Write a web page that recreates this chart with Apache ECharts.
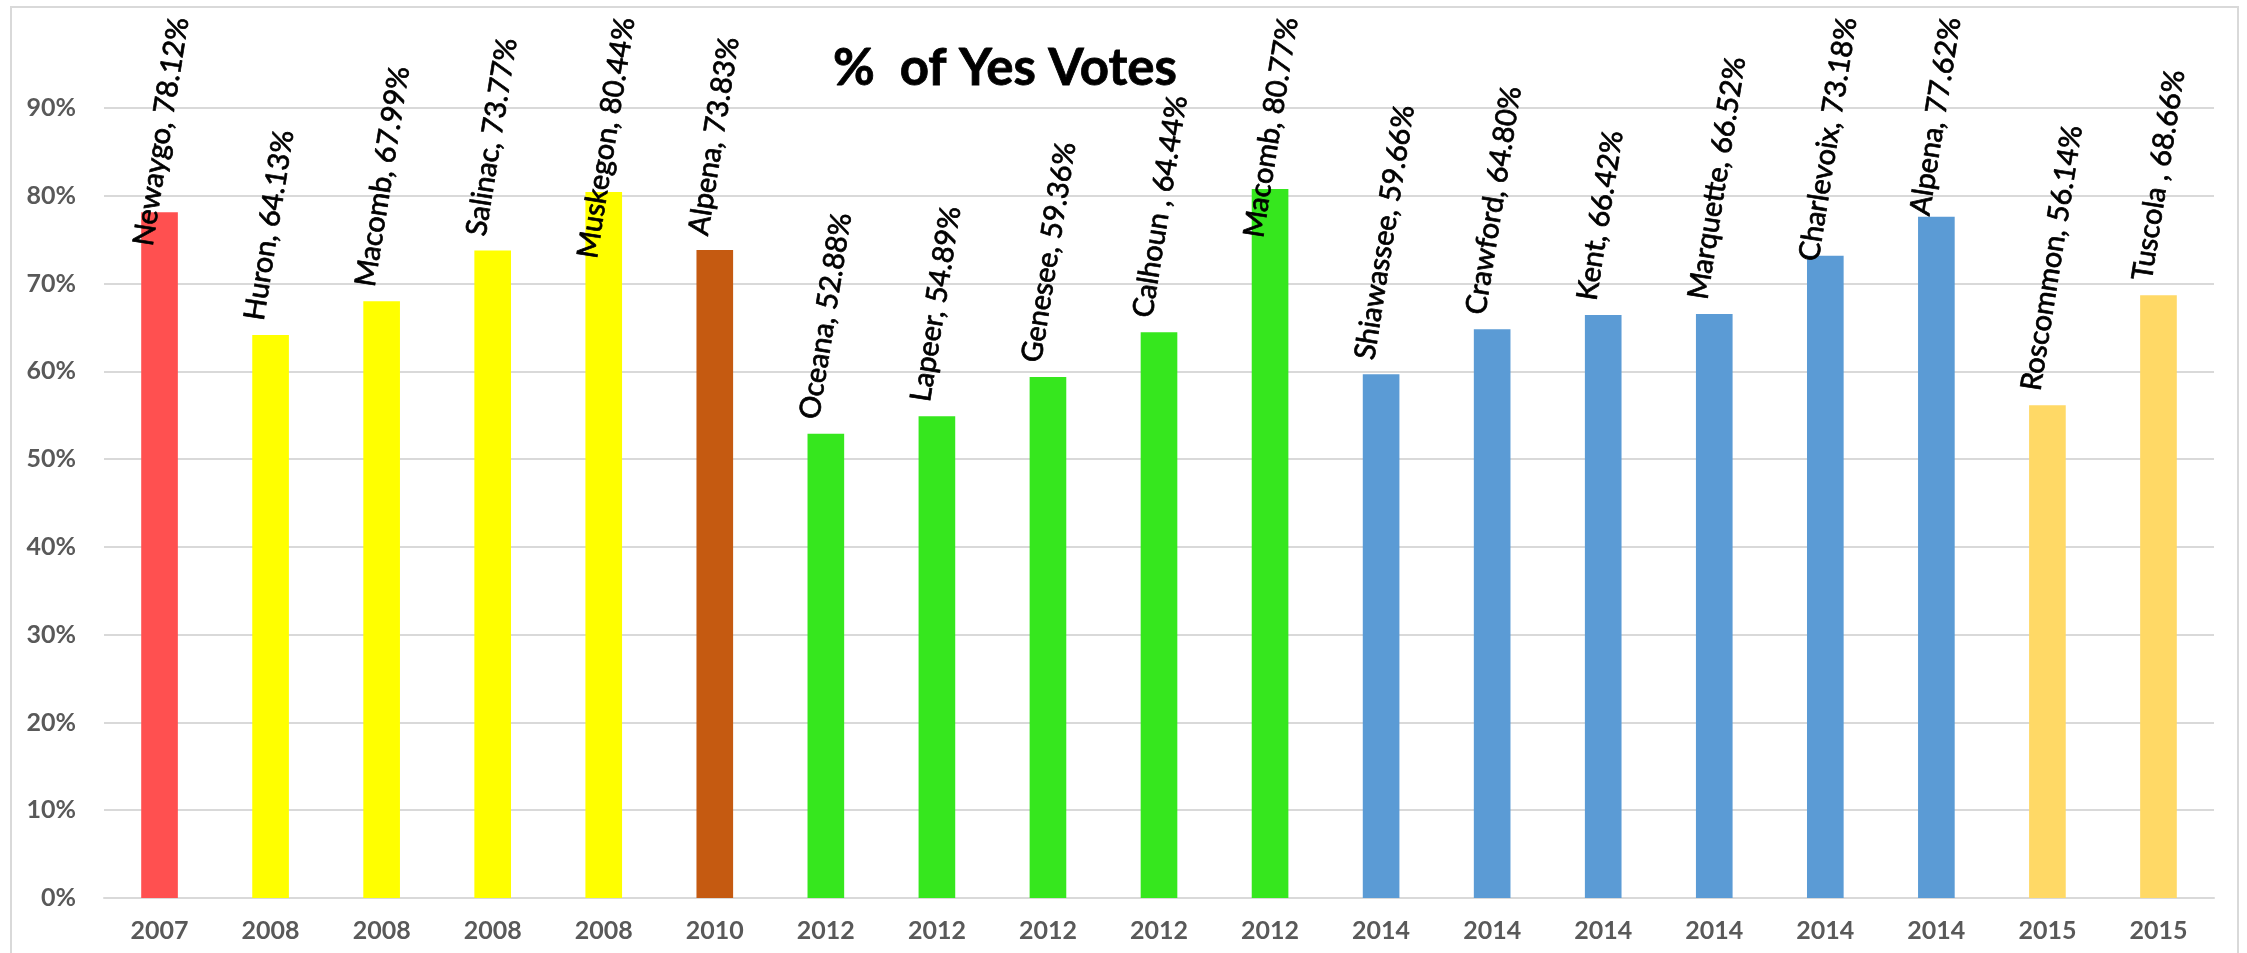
<!DOCTYPE html>
<html>
<head>
<meta charset="utf-8">
<script src="https://cdn.jsdelivr.net/npm/echarts@6/dist/echarts.min.js"></script>
<style>
html,body{margin:0;padding:0;background:#fff;}
#chart{width:2247px;height:953px;}
</style>
</head>
<body>
<div id="chart"></div>
<script>
const titleText = '%  of Yes Votes';
const years = ['2007','2008','2008','2008','2008','2010','2012','2012','2012','2012','2012','2014','2014','2014','2014','2014','2014','2015','2015'];
const counties = ['Newaygo','Huron','Macomb','Salinac','Muskegon','Alpena','Oceana','Lapeer','Genesee','Calhoun ','Macomb','Shiawassee','Crawford','Kent','Marquette','Charlevoix','Alpena','Roscommon','Tuscola '];
const values = [78.12,64.13,67.99,73.77,80.44,73.83,52.88,54.89,59.36,64.44,80.77,59.66,64.80,66.42,66.52,73.18,77.62,56.14,68.66];
const yearColors = {'2007':'#FF5050','2008':'#FFFF00','2010':'#C55A11','2012':'#36E71E','2014':'#5B9BD5','2015':'#FFD966'};
const yTicks = [0,10,20,30,40,50,60,70,80,90];

const chart = echarts.init(document.getElementById('chart'), null, {renderer:'canvas'});
const FONT = 'Lato';
const TOP_LIMIT = 15;
const LABEL_GAP = 15;
chart.setOption({
  animation:false,
  backgroundColor:'#fff',
  graphic:[{type:'rect',shape:{x:11,y:7,width:2227,height:960},style:{fill:'none',stroke:'#d9d9d9',lineWidth:2},silent:true,z:-1}],
  title:{text:titleText,left:1000,top:38,textAlign:'center',
    textStyle:{fontFamily:FONT,fontWeight:'bold',fontSize:51,color:'#000',lineHeight:52,textBorderColor:'#000',textBorderWidth:0.8}},
  grid:{left:104,right:33,top:108,bottom:55,containLabel:false},
  xAxis:{type:'category',data:years,
    axisLine:{show:true,lineStyle:{color:'#d9d9d9',width:2}},
    axisTick:{show:false},
    axisLabel:{interval:0,margin:20,color:'#595959',fontFamily:FONT,fontWeight:'bold',fontSize:25}},
  yAxis:{type:'value',min:yTicks[0],max:yTicks[yTicks.length-1],interval:10,
    axisLine:{show:false},axisTick:{show:false},
    splitLine:{lineStyle:{color:'#d9d9d9',width:2}},
    axisLabel:{formatter:'{value}%',margin:28,color:'#595959',fontFamily:FONT,fontWeight:'bold',fontSize:25}},
  series:[{type:'bar',barWidth:'33%',
    data:values.map((v,i)=>({value:v,itemStyle:{color:yearColors[years[i]]}})),
    label:{show:true,position:[2,-LABEL_GAP],rotate:81,align:'left',verticalAlign:'middle',
      fontFamily:FONT,fontSize:29,color:'#000',textBorderColor:'#000',textBorderWidth:0.7,
      formatter:p=>counties[p.dataIndex]+', '+p.value.toFixed(2)+'%'}
  }],
  labelLayout:function(params){
    const r = params.labelRect;
    if (r.y < TOP_LIMIT) return {y: params.rect.y - LABEL_GAP + (TOP_LIMIT - r.y)};
    return {};
  }
});
</script>
</body>
</html>
